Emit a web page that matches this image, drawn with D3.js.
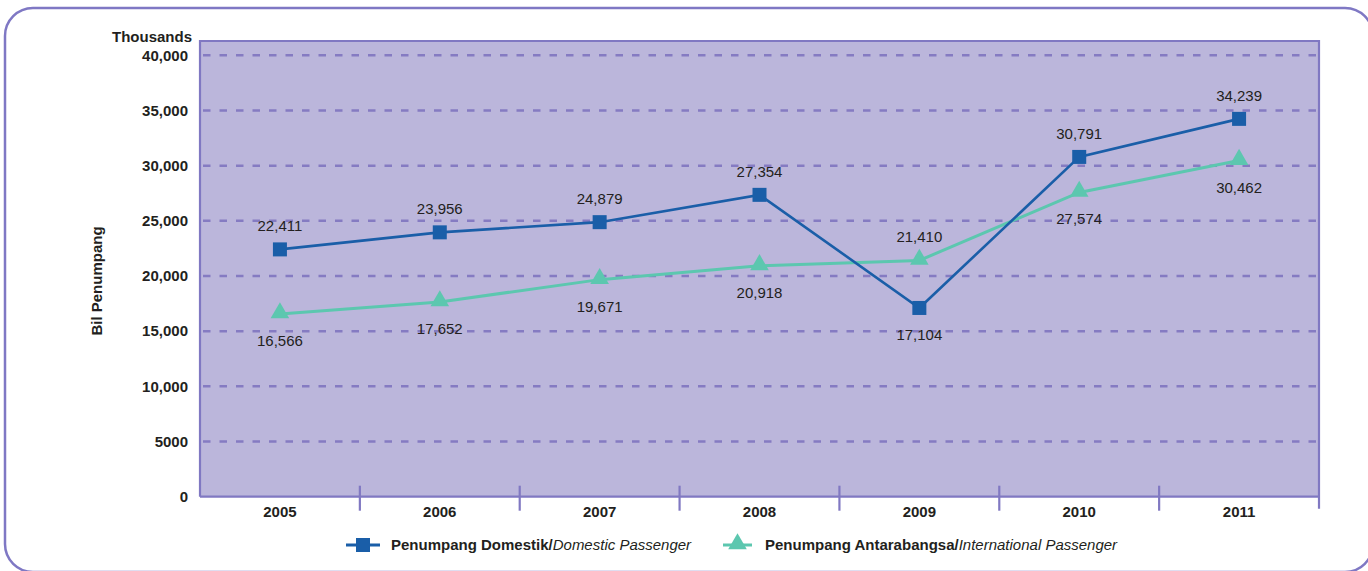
<!DOCTYPE html>
<html>
<head>
<meta charset="utf-8">
<script src="https://cdn.jsdelivr.net/npm/d3@7/dist/d3.min.js"></script>
<style>
  html, body { margin: 0; padding: 0; background: #ffffff; }
  svg { display: block; font-family: "Liberation Sans", Arial, Helvetica, sans-serif; }
</style>
</head>
<body>
<svg id="chart" width="1368" height="571"></svg>
<script>
// ---- Data ----
const years = ["2005", "2006", "2007", "2008", "2009", "2010", "2011"];
const domestic = [22411, 23956, 24879, 27354, 17104, 30791, 34239];
const international = [16566, 17652, 19671, 20918, 21410, 27574, 30462];
const yTicks = [0, 5000, 10000, 15000, 20000, 25000, 30000, 35000, 40000];
const yTickLabels = ["0", "5000", "10,000", "15,000", "20,000", "25,000", "30,000", "35,000", "40,000"];
const seriesNames = [
  { bold: "Penumpang Domestik/", italic: "Domestic Passenger" },
  { bold: "Penumpang Antarabangsa/", italic: "International Passenger" }
];

// ---- Layout ----
const svg = d3.select("#chart");
const plot = { left: 200, right: 1319, top: 41, bottom: 496.7 };
const textColor = "#231f20";
const panelFill = "#bbb6db";
const gridColor = "#857bc2";
const axisColor = "#8078c2";
const domColor = "#1a5ea8";
const intColor = "#5cc7af";

// Outer rounded frame
svg.append("rect")
  .attr("x", 5).attr("y", 8)
  .attr("width", 1368).attr("height", 564)
  .attr("rx", 28).attr("ry", 28)
  .attr("fill", "none")
  .attr("stroke", "#7f78c4")
  .attr("stroke-width", 2.5);

const x = d3.scaleBand().domain(years).range([plot.left, plot.right]).padding(0);
const y = d3.scaleLinear().domain([0, 40000]).range([plot.bottom, 55.3]);

// Panel
svg.append("rect")
  .attr("x", plot.left).attr("y", plot.top)
  .attr("width", plot.right - plot.left).attr("height", plot.bottom - plot.top)
  .attr("fill", panelFill);

// Grid lines
svg.append("g").selectAll("line")
  .data(yTicks.filter(d => d > 0))
  .join("line")
  .attr("x1", plot.left + 3).attr("x2", plot.right)
  .attr("y1", d => y(d)).attr("y2", d => y(d))
  .attr("stroke", gridColor)
  .attr("stroke-width", 2.5)
  .attr("stroke-dasharray", "7.5,9");

// Panel border (left, top, right) and bottom axis
svg.append("path")
  .attr("d", `M${plot.left},${plot.bottom} L${plot.left},${plot.top} L${plot.right},${plot.top} L${plot.right},${plot.bottom + 12}`)
  .attr("fill", "none").attr("stroke", axisColor).attr("stroke-width", 2.2);
svg.append("line")
  .attr("x1", plot.left).attr("x2", plot.right)
  .attr("y1", plot.bottom).attr("y2", plot.bottom)
  .attr("stroke", axisColor).attr("stroke-width", 2.2);

// X ticks at category boundaries
svg.append("g").selectAll("line")
  .data(years.slice(1))
  .join("line")
  .attr("x1", d => x(d)).attr("x2", d => x(d))
  .attr("y1", plot.bottom - 11).attr("y2", plot.bottom + 14)
  .attr("stroke", axisColor).attr("stroke-width", 2.2);

// X labels
svg.append("g").selectAll("text")
  .data(years)
  .join("text")
  .attr("x", d => x(d) + x.bandwidth() / 2)
  .attr("y", 517)
  .attr("text-anchor", "middle")
  .attr("font-size", 15).attr("font-weight", "bold")
  .attr("fill", textColor)
  .text(d => d);

// Y labels
svg.append("g").selectAll("text")
  .data(yTicks)
  .join("text")
  .attr("x", 188)
  .attr("y", d => y(d))
  .attr("dy", "0.35em")
  .attr("text-anchor", "end")
  .attr("font-size", 15).attr("font-weight", "bold")
  .attr("fill", textColor)
  .text((d, i) => yTickLabels[i]);

svg.append("text")
  .attr("x", 192).attr("y", 42)
  .attr("text-anchor", "end")
  .attr("font-size", 15).attr("font-weight", "bold")
  .attr("fill", textColor)
  .text("Thousands");

svg.append("text")
  .attr("transform", "translate(102,281) rotate(-90)")
  .attr("text-anchor", "middle")
  .attr("font-size", 15).attr("font-weight", "bold")
  .attr("fill", textColor)
  .text("Bil Penumpang");

// Lines
const cx = (d, i) => x(years[i]) + x.bandwidth() / 2;
const line = d3.line().x(cx).y(d => y(d));

svg.append("path").datum(international)
  .attr("d", line).attr("fill", "none")
  .attr("stroke", intColor).attr("stroke-width", 3);
svg.append("path").datum(domestic)
  .attr("d", line).attr("fill", "none")
  .attr("stroke", domColor).attr("stroke-width", 2.6);

// Markers
const tri = d3.symbol().type(d3.symbolTriangle).size(150);
svg.append("g").selectAll("path")
  .data(international)
  .join("path")
  .attr("d", tri)
  .attr("transform", (d, i) => `translate(${cx(d, i)},${y(d) - 1})`)
  .attr("fill", intColor);

const sq = 14;
svg.append("g").selectAll("rect")
  .data(domestic)
  .join("rect")
  .attr("x", (d, i) => cx(d, i) - sq / 2)
  .attr("y", d => y(d) - sq / 2)
  .attr("width", sq).attr("height", sq)
  .attr("fill", domColor);

// Value labels: placed on the side away from the other series
const fmt = d3.format(",");
function addLabels(values, other) {
  svg.append("g").selectAll("text")
    .data(values)
    .join("text")
    .attr("x", (d, i) => cx(d, i))
    .attr("y", (d, i) => d >= other[i] ? y(d) - 18 : y(d) + 32)
    .attr("text-anchor", "middle")
    .attr("font-size", 15)
    .attr("fill", textColor)
    .text(d => fmt(d));
}
addLabels(domestic, international);
addLabels(international, domestic);

// Legend
const ly = 545;
const leg = svg.append("g");
leg.append("line").attr("x1", 346).attr("x2", 380).attr("y1", ly).attr("y2", ly)
  .attr("stroke", domColor).attr("stroke-width", 3);
leg.append("rect").attr("x", 363 - 7).attr("y", ly - 7).attr("width", 14).attr("height", 14)
  .attr("fill", domColor);
leg.append("line").attr("x1", 723).attr("x2", 752).attr("y1", ly).attr("y2", ly)
  .attr("stroke", intColor).attr("stroke-width", 3);
leg.append("path").attr("d", tri).attr("transform", `translate(737.5,${ly - 1})`)
  .attr("fill", intColor);

const legX = [391, 765];
seriesNames.forEach((s, i) => {
  const t = leg.append("text")
    .attr("x", legX[i]).attr("y", ly + 5)
    .attr("font-size", 15).attr("fill", textColor);
  t.append("tspan").attr("font-weight", "bold").text(s.bold);
  t.append("tspan").attr("font-style", "italic").text(s.italic);
});
</script>
</body>
</html>
